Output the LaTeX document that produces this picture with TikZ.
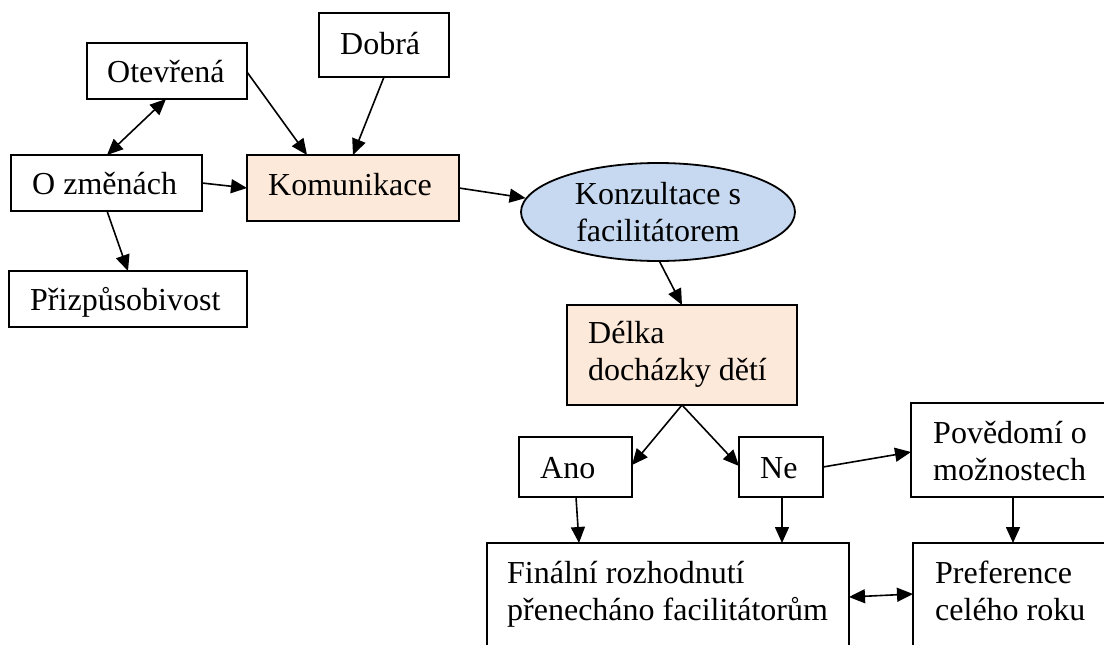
\documentclass[tikz,border=0pt]{standalone}
\usepackage{fontspec}
\setmainfont{Liberation Serif}
\usetikzlibrary{arrows.meta,shapes.geometric}
\newcommand\boxfont{\fontsize{32}{37}\selectfont}
\definecolor{peach}{HTML}{FDE9D9}
\definecolor{paleblue}{HTML}{C6D9F1}
\tikzset{
  box/.style={draw, line width=1.8pt, anchor=north west, inner sep=0pt, outer sep=0pt},
  lbl/.style={anchor=base west, inner sep=0pt, align=left, font=\boxfont},
  arr/.style={line width=1.6pt, -{Triangle[length=16pt,width=14pt]}},
  darr/.style={line width=1.6pt, {Triangle[length=16pt,width=14pt]}-{Triangle[length=16pt,width=14pt]}},
}
\begin{document}
\begin{tikzpicture}[x=1pt, y=-1pt]
\useasboundingbox (0,0) rectangle (1104,645);
\clip (0,0) rectangle (1104,645);

% boxes
\node[box, minimum width=130pt, minimum height=64pt] (dobra) at (319,13) {};
\node[box, minimum width=160pt, minimum height=56pt] (otev) at (87,43) {};
\node[box, minimum width=191pt, minimum height=56pt] (ozm) at (11,155) {};
\node[box, fill=peach, minimum width=212pt, minimum height=66pt] (kom) at (247,155) {};
\node[box, minimum width=238pt, minimum height=56pt] (priz) at (9,271) {};
\node[draw, line width=1.8pt, fill=paleblue, ellipse, inner sep=0pt,
      minimum width=274pt, minimum height=98pt, align=center, font=\boxfont] (ell) at (658,212)
      {Konzultace s\\facilitátorem};
\node[box, fill=peach, minimum width=230pt, minimum height=100pt] (delka) at (567,305) {};
\node[box, minimum width=113pt, minimum height=60pt] (ano) at (519,437) {};
\node[box, minimum width=84pt, minimum height=60pt] (ne) at (739,437) {};
\node[box, minimum width=200pt, minimum height=94pt] (pov) at (911,403) {};
\node[box, minimum width=362pt, minimum height=120pt] (fin) at (487,543) {};
\node[box, minimum width=200pt, minimum height=120pt] (pref) at (913,543) {};

% texts (anchor on the baseline of the last line)
\node[lbl] (dobra-t) at (340,54) {Dobrá};
\node[lbl] (otev-t) at (107,82) {Otevřená};
\node[lbl] (ozm-t) at (32,194) {O změnách};
\node[lbl] (kom-t) at (268,195) {Komunikace};
\node[lbl] (priz-t) at (30,310) {Přizpůsobivost};
\node[lbl] (delka-t) at (588,380) {Délka\\docházky dětí};
\node[lbl] (ano-t) at (540,478) {Ano};
\node[lbl] (ne-t) at (760,478) {Ne};
\node[lbl] (pov-t) at (933,480) {Povědomí o\\možnostech};
\node[lbl] (fin-t) at (507,620) {Finální rozhodnutí\\přenecháno facilitátorům};
\node[lbl] (pref-t) at (935,620) {Preference\\celého roku};

% connectors
\draw[darr] ([xshift=96pt]ozm.north west) -- ([xshift=79pt]otev.south west);
\draw[arr] ([yshift=-29pt]otev.north east) -- ([xshift=60pt]kom.north west);
\draw[arr] ([xshift=65pt]dobra.south west) -- ([xshift=106pt]kom.north west);
\draw[arr] ([yshift=-28pt]ozm.north east) -- ([yshift=-33pt]kom.north west);
\draw[arr] ([xshift=96pt]ozm.south west) -- ([xshift=119pt]priz.north west);
\draw[arr] ([yshift=-33pt]kom.north east) -- (ell.174);
\draw[arr] (ell.-88) -- ([xshift=115pt]delka.north west);
\draw[arr] ([xshift=115pt]delka.south west) -- ([yshift=-28pt]ano.north east);
\draw[arr] ([xshift=115pt]delka.south west) -- ([yshift=-29pt]ne.north west);
\draw[arr] ([yshift=-30pt]ne.north east) -- ([yshift=-49pt]pov.north west);
\draw[arr] ([xshift=57pt]ano.south west) -- ([xshift=92pt]fin.north west);
\draw[arr] ([xshift=43pt]ne.south west) -- ([xshift=295pt]fin.north west);
\draw[arr] ([xshift=102pt]pov.south west) -- ([xshift=100pt]pref.north west);
\draw[darr] ([yshift=-54pt]fin.north east) -- ([yshift=-51pt]pref.north west);
\end{tikzpicture}
\end{document}
